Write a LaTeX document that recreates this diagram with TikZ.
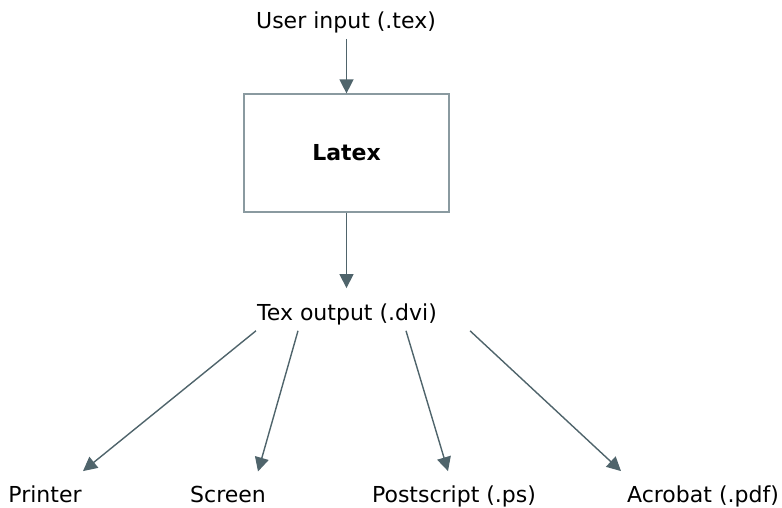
\documentclass[tikz,border=0pt]{standalone}
\usepackage{fontspec}
\setmainfont{DejaVu Sans}
\usetikzlibrary{arrows.meta}
\definecolor{linkcol}{HTML}{4F646B}
\definecolor{boxcol}{HTML}{8A9AA0}
\tikzset{
  lbl/.style={font=\fontsize{22}{26}\selectfont, inner sep=0pt, anchor=base},
  procbox/.style={draw=boxcol, line width=1.2pt, minimum width=205pt, minimum height=118pt, inner sep=0pt,
                  font=\fontsize{22}{26}\selectfont\bfseries},
  flow/.style={draw=linkcol, line width=1.4pt, -{Triangle[width=14pt,length=14pt]}, color=linkcol}
}
\begin{document}
\begin{tikzpicture}[x=1pt,y=-1pt]
  \useasboundingbox (0,0) rectangle (782,508);
  % source, processor and intermediate output
  \node[lbl] (src) at (346,29) {User input (.tex)};
  \node[procbox] (latex) at (346.5,153) {Latex};
  \node[lbl] (dvi) at (347,320) {Tex output (.dvi)};
  % final targets
  \node[lbl] (printer) at (45,502) {Printer};
  \node[lbl] (screen) at (228,502) {Screen};
  \node[lbl] (ps) at (454,502) {Postscript (.ps)};
  \node[lbl] (pdf) at (703,502) {Acrobat (.pdf)};
  % connectors
  \draw[flow] ([yshift=-5]src.south -| latex.north) -- (latex.north);
  \draw[flow] (latex.south) -- ([yshift=15]dvi.north -| latex.south);
  \draw[flow] ([xshift=-91,yshift=-6]dvi.south) -- ([xshift=38,yshift=14]printer.north);
  \draw[flow] ([xshift=-49,yshift=-6]dvi.south) -- ([xshift=30,yshift=14]screen.north);
  \draw[flow] ([xshift=59,yshift=-6]dvi.south) -- ([xshift=-6,yshift=14]ps.north);
  \draw[flow] ([xshift=123,yshift=-6]dvi.south) -- ([xshift=-82,yshift=14]pdf.north);
\end{tikzpicture}
\end{document}
